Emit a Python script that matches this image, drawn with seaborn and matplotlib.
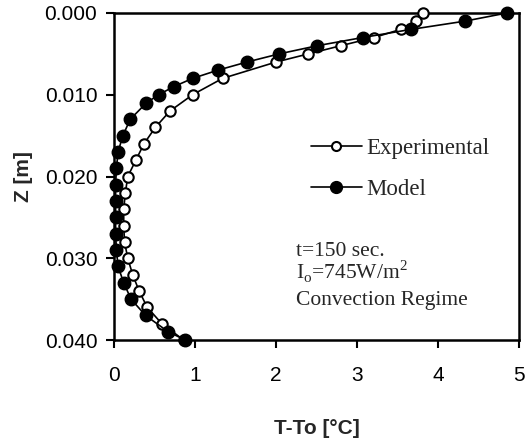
import numpy as np
import pandas as pd
import matplotlib
matplotlib.use("Agg")
import matplotlib.pyplot as plt
import seaborn as sns
from matplotlib.lines import Line2D

# ---- data ----
exp_z = [0.000, 0.001, 0.002, 0.003, 0.004, 0.005, 0.006, 0.008, 0.010, 0.012,
         0.014, 0.016, 0.018, 0.020, 0.022, 0.024, 0.026, 0.028, 0.030, 0.032,
         0.034, 0.036, 0.038, 0.040]
exp_t = [3.82, 3.73, 3.54, 3.21, 2.80, 2.40, 2.00, 1.34, 0.97, 0.69,
         0.51, 0.37, 0.27, 0.17, 0.14, 0.12, 0.12, 0.13, 0.17, 0.23,
         0.31, 0.41, 0.59, 0.86]

mod_z = [0.000, 0.001, 0.002, 0.003, 0.004, 0.005, 0.006, 0.007, 0.008, 0.009,
         0.010, 0.011, 0.013, 0.015, 0.017, 0.019, 0.021, 0.023, 0.025, 0.027,
         0.029, 0.031, 0.033, 0.035, 0.037, 0.039, 0.040]
mod_t = [4.85, 4.33, 3.67, 3.07, 2.51, 2.04, 1.64, 1.28, 0.97, 0.74,
         0.55, 0.40, 0.20, 0.11, 0.05, 0.03, 0.02, 0.02, 0.02, 0.02,
         0.03, 0.05, 0.12, 0.21, 0.39, 0.67, 0.88]

x_ticks = [0, 1, 2, 3, 4, 5]
y_ticks = [0.000, 0.010, 0.020, 0.030, 0.040]
y_ticklabels = ["0.000", "0.010", "0.020", "0.030", "0.040"]
series_names = ["Experimental", "Model"]
info_lines = ["t=150 sec.", r"I$_\mathregular{o}$=745W/m$^\mathregular{2}$", "Convection Regime"]

sns.set_style("white")
plt.rcParams["font.family"] = ["Liberation Sans", "DejaVu Sans"]

fig = plt.figure(figsize=(5.31, 4.43), dpi=100)
ax = fig.add_axes([114/531, 1-340/443, 405/531, 327/443])

df_exp = pd.DataFrame({"T": exp_t, "Z": exp_z})
df_mod = pd.DataFrame({"T": mod_t, "Z": mod_z})

sns.lineplot(data=df_exp, x="T", y="Z", sort=False, estimator=None, ax=ax,
             color="black", lw=1.2, marker="o", markersize=7.5,
             markerfacecolor="white", markeredgecolor="black",
             markeredgewidth=1.5, zorder=2, clip_on=False)
sns.lineplot(data=df_mod, x="T", y="Z", sort=False, estimator=None, ax=ax,
             color="black", lw=1.2, marker="o", markersize=9,
             markerfacecolor="black", markeredgecolor="black",
             markeredgewidth=1, zorder=3, clip_on=False)

ax.set_xlim(0, 5)
ax.set_ylim(0.040, 0.000)
ax.set_xticks(x_ticks)
ax.set_yticks(y_ticks)
ax.set_yticklabels(y_ticklabels)
ax.tick_params(axis="both", direction="out", length=6, width=1.5, colors="black",
               labelsize=15, bottom=True, left=True)
ax.tick_params(axis="x", pad=13)
ax.tick_params(axis="y", pad=6)
for s in ax.spines.values():
    s.set_visible(True)
    s.set_color("black")
    s.set_linewidth(1.8)
    s.set_zorder(1)

ax.set_xlabel("T-To [°C]", fontsize=15, fontweight="bold", labelpad=24)
ax.set_ylabel("Z [m]", fontsize=15, fontweight="bold", labelpad=8)

serif = ["Liberation Serif", "DejaVu Serif"]
handles = [
    Line2D([], [], color="black", lw=1.2, marker="o", markersize=6.5,
           markerfacecolor="white", markeredgewidth=1.5),
    Line2D([], [], color="black", lw=1.2, marker="o", markersize=8.5,
           markerfacecolor="black"),
]
leg = ax.legend(handles, series_names, loc="upper left",
                bbox_to_anchor=(0.436, 0.68), frameon=False,
                prop={"family": serif, "size": 16.5},
                handlelength=2.2, handletextpad=0.2, labelspacing=0.85)

ys = [0.258, 0.185, 0.106]
for txt, yy in zip(info_lines, ys):
    ax.text(0.449, yy, txt, transform=ax.transAxes, fontsize=15.5,
            family=serif, va="baseline", ha="left")

fig.savefig("out.png", dpi=100)
